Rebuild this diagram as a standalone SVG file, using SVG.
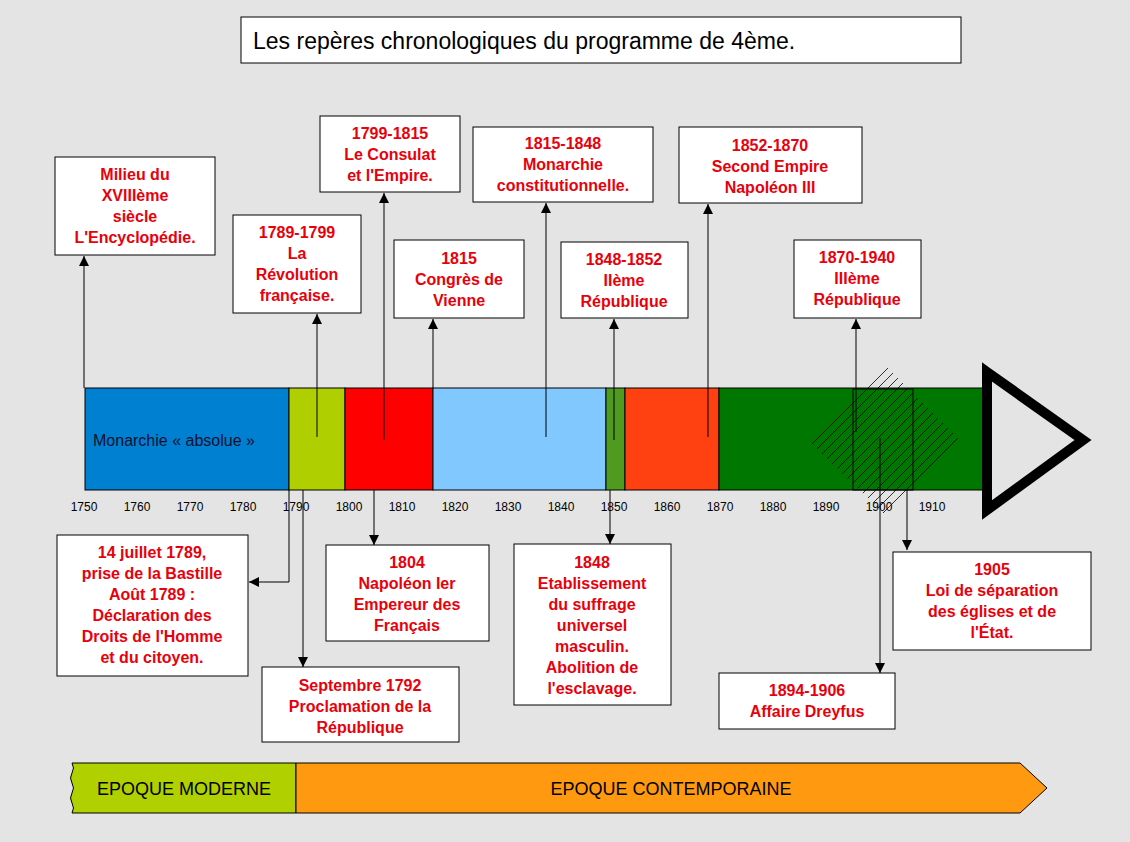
<svg xmlns="http://www.w3.org/2000/svg" width="1130" height="842" viewBox="0 0 1130 842">
<style>
.b{fill:#fff;stroke:#000;stroke-width:1}
.t{font-family:"Liberation Sans",Arial,sans-serif;font-weight:bold;font-size:16px;fill:#e8000b;text-anchor:middle}
.y{font-family:"Liberation Sans",Arial,sans-serif;font-size:12px;fill:#000;text-anchor:middle}
.c{stroke:#000;stroke-width:1;fill:none;marker-end:url(#a)}
.s{stroke:#000;stroke-width:1}
</style>
<defs>
<marker id="a" viewBox="0 0 10 10" refX="10" refY="5" markerWidth="10" markerHeight="10" markerUnits="userSpaceOnUse" orient="auto"><path d="M0,0L10,5L0,10z" fill="#000"/></marker>
<clipPath id="hc"><polygon points="808,440 885,365 960,440 885,515"/></clipPath>
</defs>
<rect width="1130" height="842" fill="#e4e4e4"/>
<g id="title"><rect x="241" y="17" width="720" height="46" class="b"/><text x="253" y="49" font-family="Liberation Sans,Arial,sans-serif" font-size="23">Les repères chronologiques du programme de 4ème.</text></g>
<g id="bar">
<rect x="85" y="388" width="204" height="102" fill="#0080d0" class="s"/>
<rect x="289" y="388" width="56" height="102" fill="#b0cf00" class="s"/>
<rect x="345" y="388" width="88" height="102" fill="#ff0000" class="s"/>
<rect x="433" y="388" width="173" height="102" fill="#80c8ff" class="s"/>
<rect x="606" y="388" width="19" height="102" fill="#509a20" class="s"/>
<rect x="625" y="388" width="94" height="102" fill="#ff4010" class="s"/>
<rect x="719" y="388" width="266" height="102" fill="#007800" class="s"/>
<rect x="853" y="389" width="60" height="101" fill="none" class="s"/>
<g clip-path="url(#hc)" stroke="#000" stroke-width="0.8">
<path d="M716,540l200,-200M726,540l200,-200M736,540l200,-200M746,540l200,-200M756,540l200,-200M766,540l200,-200M776,540l200,-200M786,540l200,-200M796,540l200,-200M806,540l200,-200M816,540l200,-200M826,540l200,-200M836,540l200,-200M846,540l200,-200M856,540l200,-200"/>
</g>
<polygon points="987,372 1083,440 987,510" fill="none" stroke="#000" stroke-width="10" stroke-linejoin="miter"/>
<text x="93" y="446" font-family="Liberation Sans,Arial,sans-serif" font-size="16" fill="#101030">Monarchie « absolue »</text>
</g>
<g id="years">
<text class="y" x="84" y="511">1750</text><text class="y" x="137" y="511">1760</text><text class="y" x="190" y="511">1770</text><text class="y" x="243" y="511">1780</text><text class="y" x="296" y="511">1790</text><text class="y" x="349" y="511">1800</text><text class="y" x="402" y="511">1810</text><text class="y" x="455" y="511">1820</text><text class="y" x="508" y="511">1830</text><text class="y" x="561" y="511">1840</text><text class="y" x="614" y="511">1850</text><text class="y" x="667" y="511">1860</text><text class="y" x="720" y="511">1870</text><text class="y" x="773" y="511">1880</text><text class="y" x="826" y="511">1890</text><text class="y" x="879" y="511">1900</text><text class="y" x="932" y="511">1910</text>
</g>
<g id="connectors">
<path class="c" d="M84,388V256"/>
<path class="c" d="M317,437V314"/>
<path class="c" d="M384,440V193"/>
<path class="c" d="M433,388V319"/>
<path class="c" d="M546,437V203"/>
<path class="c" d="M614,440V319"/>
<path class="c" d="M708,437V204"/>
<path class="c" d="M856,432V319"/>
<path class="c" d="M289,490V582H249"/>
<path class="c" d="M303,490V667"/>
<path class="c" d="M374,490V545"/>
<path class="c" d="M610,490V544"/>
<path class="c" d="M907,490V550"/>
<path class="c" d="M880,438V673"/>
</g>
<g id="n1"><rect x="55" y="157" width="160" height="98" class="b"/><text class="t" x="135" y="180">Milieu du</text><text class="t" x="135" y="201">XVIIIème</text><text class="t" x="135" y="222">siècle</text><text class="t" x="135" y="243">L'Encyclopédie.</text></g>
<g id="n2"><rect x="233" y="215" width="128" height="98" class="b"/><text class="t" x="297" y="238">1789-1799</text><text class="t" x="297" y="259">La</text><text class="t" x="297" y="280">Révolution</text><text class="t" x="297" y="301">française.</text></g>
<g id="n3"><rect x="320" y="116" width="140" height="76" class="b"/><text class="t" x="390" y="139">1799-1815</text><text class="t" x="390" y="160">Le Consulat</text><text class="t" x="390" y="181">et l'Empire.</text></g>
<g id="n4"><rect x="394" y="240" width="130" height="78" class="b"/><text class="t" x="459" y="264">1815</text><text class="t" x="459" y="285">Congrès de</text><text class="t" x="459" y="306">Vienne</text></g>
<g id="n5"><rect x="473" y="127" width="180" height="75" class="b"/><text class="t" x="563" y="149">1815-1848</text><text class="t" x="563" y="170">Monarchie</text><text class="t" x="563" y="191">constitutionnelle.</text></g>
<g id="n6"><rect x="561" y="242" width="127" height="76" class="b"/><text class="t" x="624" y="265">1848-1852</text><text class="t" x="624" y="286">IIème</text><text class="t" x="624" y="307">République</text></g>
<g id="n7"><rect x="679" y="127" width="183" height="76" class="b"/><text class="t" x="770" y="151">1852-1870</text><text class="t" x="770" y="172">Second Empire</text><text class="t" x="770" y="193">Napoléon III</text></g>
<g id="n8"><rect x="794" y="240" width="127" height="78" class="b"/><text class="t" x="857" y="263">1870-1940</text><text class="t" x="857" y="284">IIIème</text><text class="t" x="857" y="305">République</text></g>
<g id="n9"><rect x="57" y="535" width="191" height="141" class="b"/><text class="t" x="152" y="558">14 juillet 1789,</text><text class="t" x="152" y="579">prise de la Bastille</text><text class="t" x="152" y="600">Août 1789 :</text><text class="t" x="152" y="621">Déclaration des</text><text class="t" x="152" y="642">Droits de l'Homme</text><text class="t" x="152" y="663">et du citoyen.</text></g>
<g id="n10"><rect x="262" y="667" width="197" height="75" class="b"/><text class="t" x="360" y="691">Septembre 1792</text><text class="t" x="360" y="712">Proclamation de la</text><text class="t" x="360" y="733">République</text></g>
<g id="n11"><rect x="326" y="545" width="163" height="96" class="b"/><text class="t" x="407" y="568">1804</text><text class="t" x="407" y="589">Napoléon Ier</text><text class="t" x="407" y="610">Empereur des</text><text class="t" x="407" y="631">Français</text></g>
<g id="n12"><rect x="514" y="544" width="157" height="161" class="b"/><text class="t" x="592" y="568">1848</text><text class="t" x="592" y="589">Etablissement</text><text class="t" x="592" y="610">du suffrage</text><text class="t" x="592" y="631">universel</text><text class="t" x="592" y="652">masculin.</text><text class="t" x="592" y="673">Abolition de</text><text class="t" x="592" y="694">l'esclavage.</text></g>
<g id="n13"><rect x="893" y="552" width="198" height="98" class="b"/><text class="t" x="992" y="575">1905</text><text class="t" x="992" y="596">Loi de séparation</text><text class="t" x="992" y="617">des églises et de</text><text class="t" x="992" y="638">l'État.</text></g>
<g id="n14"><rect x="719" y="673" width="176" height="56" class="b"/><text class="t" x="807" y="696">1894-1906</text><text class="t" x="807" y="717">Affaire Dreyfus</text></g>
<g id="epochs">
<path d="M72,763H296V813H72q3,-5 0,-10q-3,-5 0,-10q3,-5 0,-10q-3,-5 0,-10q3,-5 0,-10z" fill="#b0d000" stroke="#000"/>
<path d="M296,763H1020L1047,788L1020,813H296z" fill="#ff9a10" stroke="#000"/>
<text x="184" y="795" font-family="Liberation Sans,Arial,sans-serif" font-size="18" text-anchor="middle">EPOQUE MODERNE</text>
<text x="671" y="795" font-family="Liberation Sans,Arial,sans-serif" font-size="18" text-anchor="middle">EPOQUE CONTEMPORAINE</text>
</g>
</svg>
